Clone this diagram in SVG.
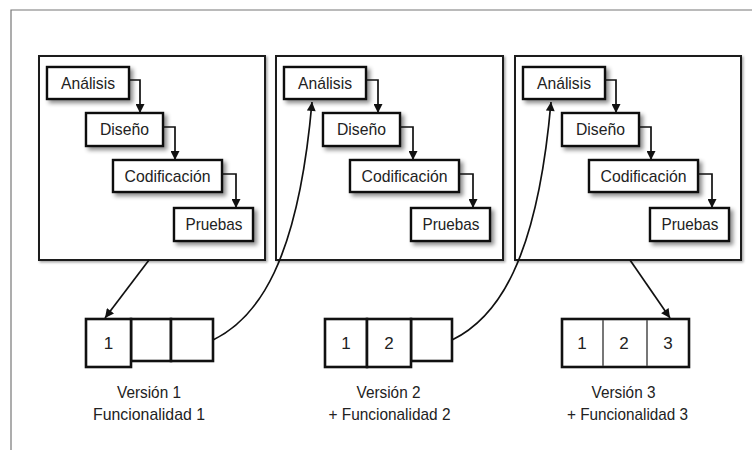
<svg xmlns="http://www.w3.org/2000/svg" width="752" height="450" viewBox="0 0 752 450">
<defs>
<style>
text{font-family:"Liberation Sans",Arial,sans-serif;fill:#222;text-anchor:middle;font-size:17px}
.panel{fill:#fff;stroke:#1a1a1a;stroke-width:2}
.box{fill:#fff;stroke:#111;stroke-width:2.4}
.vbox{fill:#fff;stroke:#111;stroke-width:2.6}
.div{stroke:#555;stroke-width:1.6}
.conn{fill:none;stroke:#111;stroke-width:1.7}
.frame{fill:none;stroke:#777;stroke-width:1.2}
</style>
<filter id="sh" x="-20%" y="-20%" width="150%" height="160%">
<feDropShadow dx="3" dy="3" stdDeviation="2" flood-color="#000" flood-opacity="0.45"/>
</filter>
<filter id="psh" x="-5%" y="-5%" width="110%" height="110%">
<feDropShadow dx="1.5" dy="1.5" stdDeviation="1" flood-color="#000" flood-opacity="0.35"/>
</filter>
<marker id="ah" viewBox="0 0 10 10" refX="10" refY="5" markerWidth="10" markerHeight="9" markerUnits="userSpaceOnUse" orient="auto">
<path d="M0,0 L10,5 L0,10 z" fill="#111"/>
</marker>
</defs>
<rect width="752" height="450" fill="#fff"/>
<path class="frame" d="M11,450 V10 H752"/>

<g id="panel1" transform="translate(39,0)">
<rect class="panel" filter="url(#psh)" x="0" y="56" width="226" height="204"/>
<g id="p1-analisis"><rect class="box" filter="url(#sh)" x="8" y="67" width="82" height="32"/><text x="49" y="89" textLength="54" lengthAdjust="spacingAndGlyphs">Análisis</text></g>
<g id="p1-diseno"><rect class="box" filter="url(#sh)" x="47" y="113" width="77" height="33"/><text x="85.5" y="135" textLength="49" lengthAdjust="spacingAndGlyphs">Diseño</text></g>
<g id="p1-codificacion"><rect class="box" filter="url(#sh)" x="74" y="160" width="109" height="32"/><text x="128.5" y="182" textLength="86" lengthAdjust="spacingAndGlyphs">Codificación</text></g>
<g id="p1-pruebas"><rect class="box" filter="url(#sh)" x="135" y="208" width="79" height="33"/><text x="175" y="230" textLength="57" lengthAdjust="spacingAndGlyphs">Pruebas</text></g>
</g>

<g id="panel2" transform="translate(276,0)">
<rect class="panel" filter="url(#psh)" x="0" y="56" width="227" height="204"/>
<g id="p2-analisis"><rect class="box" filter="url(#sh)" x="8" y="67" width="82" height="32"/><text x="49" y="89" textLength="54" lengthAdjust="spacingAndGlyphs">Análisis</text></g>
<g id="p2-diseno"><rect class="box" filter="url(#sh)" x="47" y="113" width="77" height="33"/><text x="85.5" y="135" textLength="49" lengthAdjust="spacingAndGlyphs">Diseño</text></g>
<g id="p2-codificacion"><rect class="box" filter="url(#sh)" x="74" y="160" width="109" height="32"/><text x="128.5" y="182" textLength="86" lengthAdjust="spacingAndGlyphs">Codificación</text></g>
<g id="p2-pruebas"><rect class="box" filter="url(#sh)" x="135" y="208" width="79" height="33"/><text x="175" y="230" textLength="57" lengthAdjust="spacingAndGlyphs">Pruebas</text></g>
</g>

<g id="panel3" transform="translate(515,0)">
<rect class="panel" filter="url(#psh)" x="0" y="56" width="226" height="204"/>
<g id="p3-analisis"><rect class="box" filter="url(#sh)" x="8" y="67" width="82" height="32"/><text x="49" y="89" textLength="54" lengthAdjust="spacingAndGlyphs">Análisis</text></g>
<g id="p3-diseno"><rect class="box" filter="url(#sh)" x="47" y="113" width="77" height="33"/><text x="85.5" y="135" textLength="49" lengthAdjust="spacingAndGlyphs">Diseño</text></g>
<g id="p3-codificacion"><rect class="box" filter="url(#sh)" x="74" y="160" width="109" height="32"/><text x="128.5" y="182" textLength="86" lengthAdjust="spacingAndGlyphs">Codificación</text></g>
<g id="p3-pruebas"><rect class="box" filter="url(#sh)" x="135" y="208" width="79" height="33"/><text x="175" y="230" textLength="57" lengthAdjust="spacingAndGlyphs">Pruebas</text></g>
</g>

<g id="version1">
<rect class="vbox" x="131" y="319" width="40" height="42"/>
<rect class="vbox" x="171" y="319" width="42" height="42"/>
<rect class="vbox" x="86" y="319" width="45" height="48"/>
<text x="108.5" y="349">1</text>
<text x="149" y="398" textLength="64" lengthAdjust="spacingAndGlyphs">Versión 1</text>
<text x="149" y="420" textLength="112" lengthAdjust="spacingAndGlyphs">Funcionalidad 1</text>
</g>

<g id="version2">
<rect class="vbox" x="411" y="319" width="41" height="42"/>
<rect class="vbox" x="325" y="319" width="42" height="48"/>
<rect class="vbox" x="367" y="319" width="44" height="48"/>
<text x="346" y="349">1</text>
<text x="389" y="349">2</text>
<text x="388.5" y="398" textLength="64" lengthAdjust="spacingAndGlyphs">Versión 2</text>
<text x="389.5" y="420" textLength="122" lengthAdjust="spacingAndGlyphs">+ Funcionalidad 2</text>
</g>

<g id="version3">
<rect class="vbox" x="562" y="319" width="127" height="48"/>
<line class="div" x1="603" y1="320" x2="603" y2="366"/>
<line class="div" x1="647" y1="320" x2="647" y2="366"/>
<text x="582" y="349">1</text>
<text x="624" y="349">2</text>
<text x="668" y="349">3</text>
<text x="623.5" y="398" textLength="64" lengthAdjust="spacingAndGlyphs">Versión 3</text>
<text x="627.5" y="420" textLength="121" lengthAdjust="spacingAndGlyphs">+ Funcionalidad 3</text>
</g>

<g id="connectors">
<g transform="translate(39,0)">
<path class="conn" marker-end="url(#ah)" d="M90,80 H101 V113"/>
<path class="conn" marker-end="url(#ah)" d="M124,127 H136 V160"/>
<path class="conn" marker-end="url(#ah)" d="M183,174 H197 V208"/>
</g>
<g transform="translate(276,0)">
<path class="conn" marker-end="url(#ah)" d="M90,80 H102 V113"/>
<path class="conn" marker-end="url(#ah)" d="M124,127 H137 V160"/>
<path class="conn" marker-end="url(#ah)" d="M183,174 H197 V208"/>
</g>
<g transform="translate(515,0)">
<path class="conn" marker-end="url(#ah)" d="M90,80 H101 V113"/>
<path class="conn" marker-end="url(#ah)" d="M124,127 H136 V160"/>
<path class="conn" marker-end="url(#ah)" d="M183,174 H197 V208"/>
</g>
<path class="conn" marker-end="url(#ah)" d="M149,260 L105,318"/>
<path class="conn" marker-end="url(#ah)" d="M213,340 C258,318 298,262 312,102"/>
<path class="conn" marker-end="url(#ah)" d="M452,340 C497,318 537,262 551,102"/>
<path class="conn" marker-end="url(#ah)" d="M630,260 L670,318"/>
</g>
</svg>
